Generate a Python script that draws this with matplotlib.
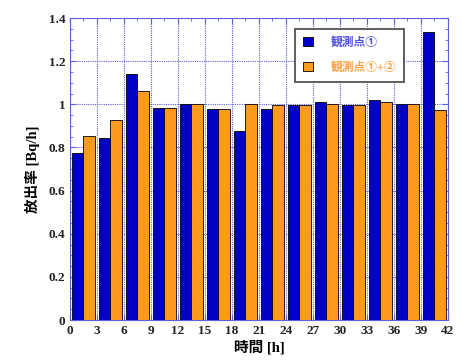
import matplotlib.pyplot as plt
import numpy as np
from matplotlib.ticker import MultipleLocator

# data
hours = [1.5, 4.5, 7.5, 10.5, 13.5, 16.5, 19.5, 22.5, 25.5, 28.5, 31.5, 34.5, 37.5, 40.5]
point1 = [0.773, 0.844, 1.139, 0.981, 1.0, 0.977, 0.878, 0.977, 0.995, 1.011, 0.995, 1.02, 1.0, 1.335]
point12 = [0.853, 0.928, 1.061, 0.981, 1.0, 0.977, 1.0, 0.995, 0.995, 1.0, 0.995, 1.011, 1.0, 0.972]
xticks = list(range(0, 43, 3))
yticks = [0, 0.2, 0.4, 0.6, 0.8, 1.0, 1.2, 1.4]
ytick_labels = ['0', '0.2', '0.4', '0.6', '0.8', '1', '1.2', '1.4']

fonts = ['Liberation Serif', 'Noto Sans CJK JP']
blue = '#0000c8'
orange = '#ff9a1f'
frame = '#6060d8'

fig = plt.figure(figsize=(4.62, 3.62), dpi=100)
ax = fig.add_axes([0.1515, 0.116, 0.818, 0.834])

w = 1.25
x = np.array(hours)
ax.bar(x - w / 2, point1, width=w, color=blue, edgecolor='black', linewidth=0.6,
       label='観測点①', zorder=3)
ax.bar(x + w / 2, point12, width=w, color=orange, edgecolor='black', linewidth=0.6,
       label='観測点①+②', zorder=3)

ax.set_xlim(0, 42)
ax.set_ylim(0, 1.4)
ax.set_xticks(xticks)
ax.set_yticks(yticks)
ax.set_yticklabels(ytick_labels)
ax.yaxis.set_minor_locator(MultipleLocator(0.05))
ax.xaxis.set_minor_locator(MultipleLocator(1.5))
ax.grid(True, which='major', color=frame, linestyle=(0, (1, 1)), linewidth=0.8, zorder=0)
for s in ax.spines.values():
    s.set_color(frame)
ax.tick_params(which='both', direction='in', top=True, right=True, color=frame)
ax.tick_params(which='major', length=4)
ax.tick_params(which='minor', length=2)
for lab in ax.get_xticklabels() + ax.get_yticklabels():
    lab.set_family(fonts)
    lab.set_fontweight('bold')
    lab.set_fontsize(9.5)
    lab.set_color('#222222')

ax.set_xlabel('時間 [h]', family=fonts, fontweight='bold', fontsize=10.5, labelpad=2)
ax.set_ylabel('放出率 [Bq/h]', family=fonts, fontweight='bold', fontsize=10.5, labelpad=6)

leg = ax.legend(loc='upper right', bbox_to_anchor=(0.9, 0.985), prop={'family': fonts, 'size': 8.5, 'weight': 'bold'},
                fancybox=False, edgecolor='#444444', framealpha=1, handlelength=0.8, handleheight=0.8,
                borderpad=0.7, labelspacing=1.1, handletextpad=1.5)
leg.get_frame().set_linewidth(1.2)
leg.get_texts()[0].set_color('#5050e0')
leg.get_texts()[1].set_color('#ffa040')

fig.savefig('out.png', dpi=100)
